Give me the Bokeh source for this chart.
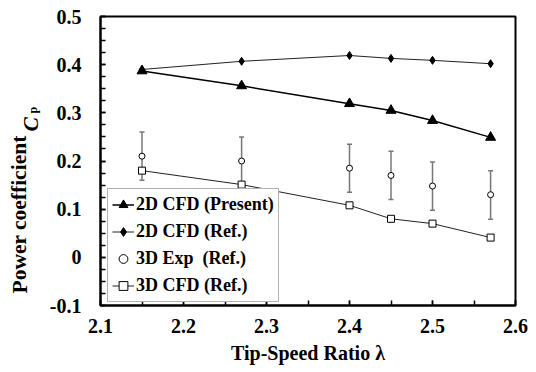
from bokeh.plotting import figure
from bokeh.models import (Range1d, SingleIntervalTicker, CustomJSTickFormatter, Label,
                          Legend, LegendItem, ColumnDataSource, Whisker, TeeHead)
from bokeh.embed import file_html
from bokeh.resources import INLINE

# ---- data ----
lam = [2.15, 2.27, 2.40, 2.45, 2.50, 2.57]
cfd2d_present = [0.387, 0.356, 0.319, 0.305, 0.284, 0.249]
cfd2d_ref = [0.390, 0.407, 0.419, 0.413, 0.409, 0.402]
exp3d = [0.210, 0.200, 0.185, 0.170, 0.148, 0.130]
exp3d_upper = [0.260, 0.250, 0.235, 0.220, 0.198, 0.180]
exp3d_lower = [0.160, 0.150, 0.135, 0.120, 0.098, 0.079]
cfd3d_ref = [0.180, 0.151, 0.108, 0.080, 0.070, 0.041]

legend_labels = ["2D CFD (Present)", "2D CFD (Ref.)", "3D Exp  (Ref.)", "3D CFD (Ref.)"]
x_label = "Tip-Speed Ratio \u03bb"
y_label_parts = ["Power coefficient ", "C", "p"]

FONT = "Liberation Serif"

p = figure(width=536, height=372, output_backend="svg", toolbar_location=None,
           x_range=Range1d(2.1, 2.6), y_range=Range1d(-0.1, 0.5),
           min_border_left=100, min_border_right=21, min_border_top=16, min_border_bottom=67)
p.background_fill_color = "white"
p.border_fill_color = "white"
p.xgrid.visible = False
p.ygrid.visible = False
p.outline_line_color = "black"
p.outline_line_width = 2

p.xaxis.ticker = SingleIntervalTicker(interval=0.1, num_minor_ticks=2)
p.yaxis.ticker = SingleIntervalTicker(interval=0.1, num_minor_ticks=4)
fmt = "return Math.abs(tick) < 1e-9 ? '0' : tick.toFixed(1);"
p.xaxis.formatter = CustomJSTickFormatter(code=fmt)
p.yaxis.formatter = CustomJSTickFormatter(code=fmt)

for ax in (p.xaxis[0], p.yaxis[0]):
    ax.axis_line_color = "black"
    ax.axis_line_width = 2
    ax.major_tick_in = 5
    ax.major_tick_out = 0
    ax.minor_tick_in = 5
    ax.minor_tick_out = 0
    ax.major_tick_line_color = "black"
    ax.minor_tick_line_color = "black"
    ax.major_tick_line_width = 1.5
    ax.minor_tick_line_width = 1.5
    ax.major_label_text_font = FONT
    ax.major_label_text_font_style = "bold"
    ax.major_label_text_font_size = "20px"
    ax.major_label_text_color = "black"

p.xaxis.major_label_standoff = 13
p.yaxis.major_label_standoff = 19
p.xaxis.axis_label = x_label
p.xaxis.axis_label_text_font = FONT
p.xaxis.axis_label_text_font_style = "bold"
p.xaxis.axis_label_text_font_size = "20px"
p.xaxis.axis_label_text_color = "black"
p.xaxis.axis_label_standoff = 6

# ---- series ----
r1l = p.line(lam, cfd2d_present, line_color="black", line_width=1.5)
r1m = p.scatter(lam, cfd2d_present, marker="triangle", size=10, fill_color="black", line_color="black")

r2l = p.line(lam, cfd2d_ref, line_color="#222222", line_width=1)
r2m = p.scatter(lam, cfd2d_ref, marker="diamond", size=8, fill_color="black", line_color="black")

src = ColumnDataSource(dict(x=lam, upper=exp3d_upper, lower=exp3d_lower))
wh = Whisker(base="x", upper="upper", lower="lower", source=src,
             line_color="#777777", line_width=1.5,
             upper_head=TeeHead(size=5, line_color="#777777", line_width=1.5),
             lower_head=TeeHead(size=5, line_color="#777777", line_width=1.5))
p.add_layout(wh)
r3m = p.scatter(lam, exp3d, marker="circle", size=6, fill_color="white", line_color="black", line_width=1)

r4l = p.line(lam, cfd3d_ref, line_color="#222222", line_width=1)
r4m = p.scatter(lam, cfd3d_ref, marker="square", size=7, fill_color="white", line_color="black", line_width=1)

legend = Legend(items=[
    LegendItem(label=legend_labels[0], renderers=[r1l, r1m]),
    LegendItem(label=legend_labels[1], renderers=[r2l, r2m]),
    LegendItem(label=legend_labels[2], renderers=[r3m]),
    LegendItem(label=legend_labels[3], renderers=[r4l, r4m]),
], location=(7, 3))
legend.margin = 0
legend.padding = 4
legend.spacing = 4
legend.glyph_width = 22
legend.glyph_height = 23
legend.label_height = 23
legend.label_standoff = 2
legend.label_text_font = FONT
legend.label_text_font_style = "bold"
legend.label_text_font_size = "18px"
legend.label_text_color = "black"
legend.border_line_color = "#666666"
legend.border_line_width = 1
legend.background_fill_color = "white"
legend.background_fill_alpha = 1
p.add_layout(legend, "center")

# ---- y-axis label built from pieces (italic C, subscript p) ----
common = dict(x_units="screen", y_units="screen", angle=1.5708, text_font=FONT,
              text_align="left", text_baseline="alphabetic", text_color="black")
# main words: left side panel
p.add_layout(Label(x=-3, y=12, text=y_label_parts[0], text_font_style="bold",
                   text_font_size="21.5px", **common), "left")
# italic C: above panel
p.add_layout(Label(x=-70, y=-115, text=y_label_parts[1], text_font_style="bold italic",
                   text_font_size="21.5px", **common), "above")
# subscript p: right panel
p.add_layout(Label(x=-483, y=192, text=y_label_parts[2], text_font_style="bold",
                   text_font_size="12px", **common), "right")

open("out.html", "w").write(file_html(p, INLINE))
